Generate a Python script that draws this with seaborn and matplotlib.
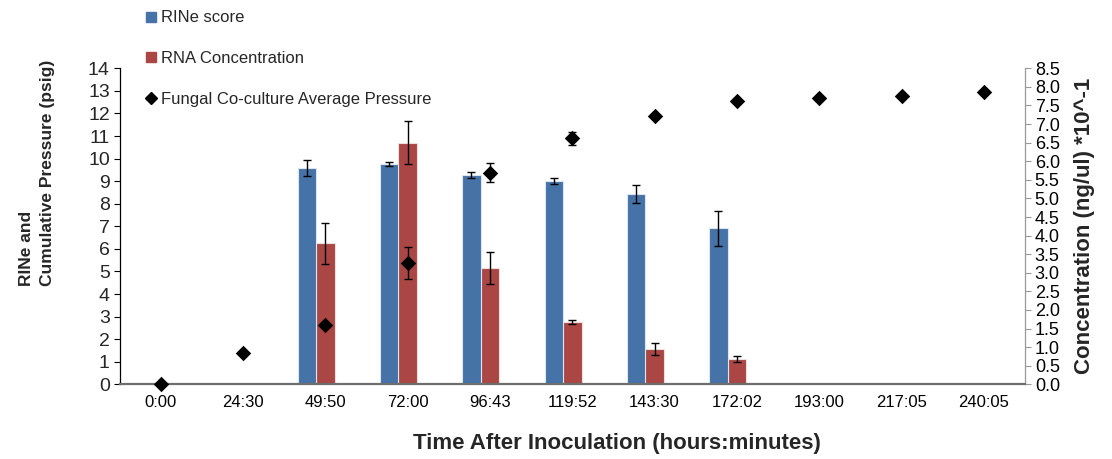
import numpy as np
import pandas as pd
import seaborn as sns
import matplotlib.pyplot as plt
from matplotlib.lines import Line2D

# Sampling times (hours:minutes after inoculation)
times = ["0:00", "24:30", "49:50", "72:00", "96:43", "119:52",
         "143:30", "172:02", "193:00", "217:05", "240:05"]

# RNA integrity (RINe) per sampling time, with standard deviation
rine = [np.nan, np.nan, 9.60, 9.76, 9.26, 9.01, 8.42, 6.92, np.nan, np.nan, np.nan]
rine_err = [np.nan, np.nan, 0.35, 0.11, 0.13, 0.15, 0.39, 0.78, np.nan, np.nan, np.nan]

# RNA concentration (ng/ul x 10^-1), with standard deviation
rna_conc = [np.nan, np.nan, 3.79, 6.50, 3.12, 1.67, 0.95, 0.68, np.nan, np.nan, np.nan]
rna_err = [np.nan, np.nan, 0.55, 0.57, 0.43, 0.05, 0.16, 0.07, np.nan, np.nan, np.nan]

# Fungal co-culture average cumulative pressure (psig)
pressure = [0.00, 1.40, 2.63, 5.39, 9.38, 10.90, 11.90, 12.55, 12.70, 12.79, 12.96]
pressure_err = [0.0, 0.0, 0.06, 0.71, 0.41, 0.30, 0.04, 0.0, 0.0, 0.0, 0.0]

BLUE = "#4572A7"
RED = "#AA4643"
BAR_W = 0.225

sns.set_theme(style="white")
plt.rcParams["font.family"] = ["Liberation Sans", "DejaVu Sans"]

idx = np.arange(len(times))
df = pd.DataFrame({
    "idx": idx, "time": times,
    "rine": rine, "rine_err": rine_err,
    "rna": rna_conc, "rna_err": rna_err,
    "pressure": pressure, "pressure_err": pressure_err,
})
df["blue_pos"] = df["idx"] - BAR_W
df["red_pos"] = df["idx"].astype(float)

fig, ax = plt.subplots(figsize=(11.12, 4.59), dpi=100)
fig.subplots_adjust(left=0.1075, right=0.9218, bottom=0.1627, top=0.8512)
ax2 = ax.twinx()

# RNA concentration bars on the secondary (right) axis
bars = df.dropna(subset=["rna"])
sns.barplot(data=bars, x="red_pos", y="rna", native_scale=True, width=BAR_W,
            color=RED, saturation=1, edgecolor="#f0dede", linewidth=0.8,
            errorbar=None, ax=ax2)
ax2.errorbar(bars["red_pos"], bars["rna"], yerr=bars["rna_err"], fmt="none",
             ecolor="black", elinewidth=1.0, capsize=3.2, capthick=1.0)

# RINe bars on the primary (left) axis
bb = df.dropna(subset=["rine"])
sns.barplot(data=bb, x="blue_pos", y="rine", native_scale=True, width=BAR_W,
            color=BLUE, saturation=1, edgecolor="#dde6f0", linewidth=0.8,
            errorbar=None, ax=ax)
ax.errorbar(bb["blue_pos"], bb["rine"], yerr=bb["rine_err"], fmt="none",
            ecolor="black", elinewidth=1.0, capsize=3.2, capthick=1.0)

# Pressure points
pe = df[df["pressure_err"] > 0]
ax.errorbar(pe["idx"], pe["pressure"], yerr=pe["pressure_err"], fmt="none",
            ecolor="black", elinewidth=1.0, capsize=3.2, capthick=1.0, zorder=4)
sns.scatterplot(data=df, x="idx", y="pressure", marker="D", s=62, color="black",
                linewidth=0, ax=ax, zorder=5, clip_on=False, legend=False)

# Primary axis drawn above the secondary one
ax.set_zorder(ax2.get_zorder() + 1)
ax.patch.set_visible(False)

ax.set_xlim(-0.5, len(times) - 0.5)
ax.set_ylim(0, 14)
ax.set_yticks(np.arange(0, 15, 1))
ax.set_xticks(idx)
ax.set_xticklabels(times, fontsize=12)
ax2.set_ylim(0, 8.5)
ax2.set_yticks(np.arange(0, 8.51, 0.5))
ax2.set_yticklabels([f"{v:.1f}" for v in np.arange(0, 8.51, 0.5)])

ax.tick_params(axis="x", length=0, pad=8, colors="black")
ax.tick_params(axis="y", direction="out", length=4, width=0.8, color="black",
               labelsize=14, pad=3, left=True)
ax2.tick_params(axis="y", direction="out", length=4, width=0.8, color="#999999",
                labelsize=13, pad=3, right=True, labelcolor="black")

for s in ["top", "right"]:
    ax.spines[s].set_visible(False)
ax.spines["left"].set_color("black")
ax.spines["left"].set_linewidth(0.9)
ax.spines["bottom"].set_color("#6e6e6e")
ax.spines["bottom"].set_linewidth(1.6)
for s in ["top", "left", "bottom"]:
    ax2.spines[s].set_visible(False)
ax2.spines["right"].set_color("#999999")
ax2.spines["right"].set_linewidth(0.9)

ax.set_xlabel("Time After Inoculation (hours:minutes)", fontsize=16,
              fontweight="bold")
ax.xaxis.set_label_coords(0.549, -0.155)
ax.set_ylabel("RINe and\nCumulative Pressure (psig)", fontsize=12.5,
              fontweight="bold", linespacing=1.45)
ax.yaxis.label.set_multialignment("left")
ax.yaxis.set_label_coords(-0.0715, 0.668)
ax2.set_ylabel("Concentration (ng/ul) *10^-1", fontsize=16,
               fontweight="bold", labelpad=10)

handles = [
    Line2D([], [], marker="s", linestyle="none", color=BLUE, markersize=7.5),
    Line2D([], [], marker="s", linestyle="none", color=RED, markersize=7.5),
    Line2D([], [], marker="D", linestyle="none", color="black", markersize=6),
]
labels = ["RINe score", "RNA Concentration", "Fungal Co-culture Average Pressure"]
fig.legend(handles, labels, loc="upper left", bbox_to_anchor=(138 / 1112, 0.992),
           frameon=False, fontsize=12, labelspacing=1.55, handlelength=0.7,
           handletextpad=0.3, borderaxespad=0)

fig.savefig("out.png", dpi=100)
